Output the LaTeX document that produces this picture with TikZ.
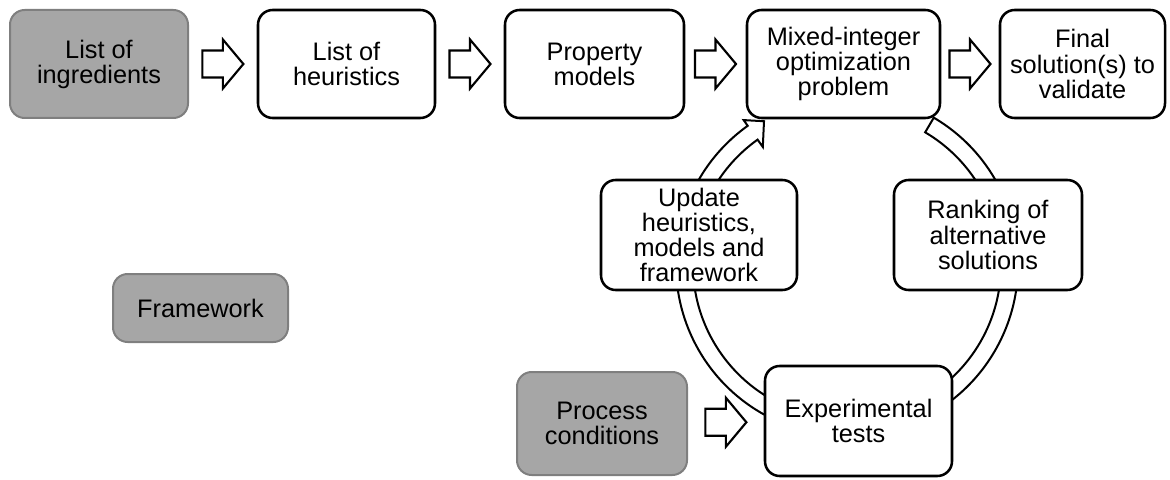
\documentclass[tikz,border=0pt]{standalone}
\usepackage{fontspec}
\setmainfont{Liberation Sans}
\usetikzlibrary{calc}
\definecolor{boxgray}{HTML}{A6A6A6}
\definecolor{edgegray}{HTML}{7F7F7F}
\begin{document}
\begin{tikzpicture}[x=0.75pt,y=0.75pt,
  box/.style={draw=black, line width=1.9pt, rounded corners=11pt, fill=white,
    align=center, font=\fontsize{19}{18.8}\selectfont, inner sep=0pt},
  graybox/.style={box, draw=edgegray, fill=boxgray, line width=1.5pt},
  ringline/.style={draw=black, line width=1.5pt, fill=white},
  arrline/.style={draw=black, line width=1.6pt, fill=white},
  blockarr/.pic={\path[arrline] (-20.5,-13.5) -- (0,-13.5) -- (0,-24.5) -- (20.5,0)
      -- (0,24.5) -- (0,13.5) -- (-20.5,13.5) -- cycle;}
]
\useasboundingbox (0,0) rectangle (1170,479);

% cycle ring arrow (drawn first, behind the boxes)
\coordinate (C) at (847,214);
\path[ringline] ($(C)+(59.5:171)$) arc[start angle=59.5, end angle=-234.5, radius=171]
  -- ($(C)+(-234.5:178)$) -- ($(C)+(-240:166)$) -- ($(C)+(-234.5:145)$)
  -- ($(C)+(-234.5:154)$) arc[start angle=-234.5, end angle=59.5, radius=154] -- cycle;

% top row
\node[graybox, minimum width=133.5pt, minimum height=81pt] (ing) at (99,415) {List of\\ingredients};
\node[box, minimum width=132.75pt, minimum height=81pt] (heu) at (346.5,415) {List of\\heuristics};
\node[box, minimum width=134.25pt, minimum height=81pt] (prop) at (594.5,415) {Property\\models};
\node[box, minimum width=144.75pt, minimum height=81pt] (mip) at (843.5,415) {Mixed-integer\\optimization\\problem};
\node[box, minimum width=123.75pt, minimum height=81pt] (fin) at (1082.5,415) {Final\\solution(s) to\\validate};

% cycle boxes
\node[box, minimum width=147pt, minimum height=82.5pt] (upd) at (699,244) {Update\\heuristics,\\models and\\framework};
\node[box, minimum width=141pt, minimum height=82.5pt] (rank) at (988,244) {Ranking of\\alternative\\solutions};
\node[box, minimum width=140.25pt, minimum height=82.5pt] (exp) at (858.5,58) {Experimental\\tests};

% other gray boxes
\node[graybox, minimum width=127.5pt, minimum height=77.25pt] (proc) at (602,55.5) {Process\\conditions};
\node[graybox, minimum width=131.25pt, minimum height=51pt] (frame) at (200.5,171) {Framework};

% block arrows
\pic at ($(ing.east)!0.5!(heu.west)$) {blockarr};
\pic at ($(heu.east)!0.5!(prop.west)$) {blockarr};
\pic at ($(prop.east)!0.5!(mip.west)$) {blockarr};
\pic at ($(mip.east)!0.5!(fin.west)$) {blockarr};
\pic at ($(proc.east)!0.5!(exp.west)$) {blockarr};
\end{tikzpicture}
\end{document}
